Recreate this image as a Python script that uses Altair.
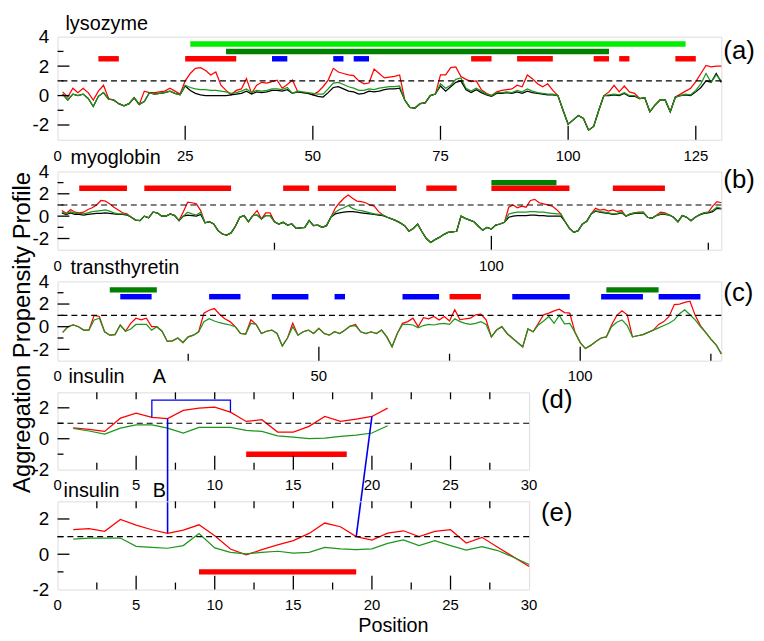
import altair as alt
import pandas as pd

FONT = "Liberation Sans"
RED = "#ff0000"
GREEN = "#1c961c"
BLACK = "#000000"
BLUE = "#0000ee"
BAR_KINDS = ["lime", "green", "red", "blue"]
BAR_COLORS = ["#00ee00", "#008000", "#ff0000", "#0000ff"]

# ---------------- data ----------------
LYS_RED = [
 0.25, -0.1, 0.5, 0.2, 0.5, 0.2, -0.3, 0.3, 0.7, -0.2,
 -0.3, -0.55, -0.7, -0.55, -0.15, -0.6, 0.3, 0.2, 0.2, 0.25,
 0.3, 0.5, 0.3, 0.1, 1.0, 1.5, 1.85, 1.9, 1.7, 1.4,
 1.6, 0.7, 0.35, 0.05, 0.35, 0.45, 1.15, 0.15, 0.7, 0.9,
 0.85, 0.95, 1.05, 0.5, 0.75, 1.05, 0.3, 0.2, 0.2, 0.05,
 0.25, 0.6, 1.05, 1.85, 1.6, 1.5, 1.4, 1.35, 1.0, 0.8,
 0.85, 1.8, 1.5, 1.2, 1.25, 1.3, 1.4, -0.3, -0.8, -0.85,
 -0.55, -0.5, 0.0, 0.1, 1.4, 1.4, 1.9, 1.95, 1.3, 1.1,
 0.95, 1.0, 0.4, 0.15, 0.0, 0.25, 0.35, 0.4, 0.45, 0.7,
 0.6, 1.4, 1.15, 0.8, 0.6, 0.8, 0.35, 0.0, -1.0, -1.95,
 -1.65, -1.35, -1.55, -2.35, -2.1, -1.0, 0.0, 0.25, 0.7, 0.25,
 0.65, 0.25, 0.15, -0.2, -0.15, -1.1, -0.65, -0.3, -0.3, -1.1,
 -0.1, 0.1, 0.3, 0.5, 0.95, 1.5, 2.05, 1.95, 2.0, 2.0,
]
LYS_GREEN = [
 0.1, -0.3, 0.1, 0.0, 0.1, -0.2, -0.75, -0.05, 0.2, -0.25,
 -0.3, -0.55, -0.7, -0.55, -0.15, -0.6, -0.4, 0.2, 0.1, 0.15,
 0.2, 0.3, 0.15, 0.05, 0.7, 0.55, 0.45, 0.4, 0.4, 0.35,
 0.35, 0.3, 0.25, 0.15, 0.2, 0.3, 0.45, 0.2, 0.35, 0.3,
 0.35, 0.45, 0.45, 0.4, 0.55, 0.15, 0.3, 0.25, 0.2, 0.15,
 0.1, 0.1, 0.45, 0.85, 0.9, 0.75, 0.6, 0.5, 0.35, 0.35,
 0.45, 0.4, 0.5, 0.55, 0.6, 0.6, 0.65, -0.3, -0.8, -0.85,
 -0.55, -0.5, 0.0, 0.1, 0.8, 0.5, 0.7, 1.1, 1.2, 0.5,
 0.3, 0.5, 0.3, 0.1, 0.0, 0.2, 0.2, 0.25, 0.2, 0.35,
 0.25, 0.45, 0.3, 0.2, 0.15, 0.1, 0.1, 0.0, -1.0, -1.95,
 -1.65, -1.35, -1.55, -2.35, -2.1, -1.0, 0.0, 0.05, 0.1, 0.05,
 0.2, 0.0, 0.0, -0.2, -0.15, -1.1, -0.65, -0.3, -0.3, -1.1,
 -0.1, 0.0, 0.1, 0.05, 0.35, 0.8, 1.5, 0.9, 1.4, 1.0,
]
LYS_BLACK = [
 0.1, -0.3, 0.1, 0.0, 0.1, -0.2, -0.75, -0.05, 0.2, -0.25,
 -0.3, -0.55, -0.7, -0.55, -0.15, -0.6, -0.4, 0.2, 0.1, 0.15,
 0.2, 0.3, 0.15, 0.05, 0.65, 0.35, 0.15, 0.05, 0.0, 0.0,
 0.0, 0.0, 0.0, 0.05, 0.1, 0.15, 0.3, 0.1, 0.25, 0.2,
 0.25, 0.35, 0.35, 0.3, 0.4, 0.15, 0.25, 0.2, 0.15, 0.05,
 -0.05, -0.1, 0.2, 0.55, 0.6, 0.45, 0.3, 0.25, 0.1, 0.15,
 0.3, 0.25, 0.3, 0.4, 0.45, 0.45, 0.5, -0.3, -0.8, -0.85,
 -0.55, -0.5, 0.0, 0.1, 0.65, 0.3, 0.6, 0.9, 1.0, 0.4,
 0.2, 0.4, 0.2, 0.05, -0.05, 0.15, 0.15, 0.2, 0.15, 0.25,
 0.15, 0.3, 0.2, 0.15, 0.1, 0.05, 0.05, 0.0, -1.0, -1.95,
 -1.65, -1.35, -1.55, -2.35, -2.1, -1.0, 0.0, 0.0, 0.05, 0.0,
 0.15, -0.05, -0.05, -0.2, -0.15, -1.1, -0.65, -0.3, -0.3, -1.1,
 -0.1, 0.0, 0.05, 0.0, 0.25, 0.55, 1.0, 0.9, 1.5, 0.9,
]
LYS_BAR_START = [26, 33, 8, 25, 81, 90, 105, 110, 121, 42, 54, 58]
LYS_BAR_END = [123, 108, 12, 35, 85, 97, 108, 112, 125, 45, 56, 61]
LYS_BAR_LEVEL = [3.5, 3.0, 2.5, 2.5, 2.5, 2.5, 2.5, 2.5, 2.5, 2.5, 2.5, 2.5]
LYS_BAR_KIND = ["lime", "green", "red", "red", "red", "red", "red", "red", "red",
                "blue", "blue", "blue"]

MYO_RED = [
 0.5, 0.25, 0.6, 0.35, 0.3, 0.35, 0.6, 0.75, 1.0, 1.4,
 1.35, 1.1, 0.8, 0.55, 0.3, 0.2, -0.1, -0.35, -0.4, 0.0,
 -0.15, 0.35, 0.3, 0.0, 0.0, 0.2, 0.05, -0.4, 0.4, 1.25,
 1.2, 1.1, 0.5, -0.6, -0.5, -0.7, -1.3, -1.6, -1.7, -1.5,
 -0.9, -0.1, 0.05, -0.5, 0.05, 0.5, -0.25, 0.3, 0.3, -0.5,
 -0.7, -0.55, -0.8, -0.7, -1.1, -1.05, -1.0, -0.4, -0.85, -0.8,
 -1.0, -0.85, -0.1, 0.7, 1.2, 1.6, 1.9, 1.6, 1.35, 1.3,
 1.2, 1.0, 0.9, 0.4, 0.1, -0.1, -0.25, -0.4, -0.6, -0.85,
 -1.35, -1.1, -0.7, -1.4, -2.0, -2.35, -2.1, -1.9, -1.65, -1.45,
 -1.4, -1.35, 0.0, -0.2, -0.35, -0.5, -0.9, -1.25, -1.0, -1.15,
 -0.8, -0.7, -0.55, 0.8, 1.0, 0.75, 0.9, 0.8, 1.4, 1.5,
 1.2, 1.1, 1.0, 0.9, 0.6, 0.2, -0.5, -1.1, -1.45, -1.3,
 -0.7, -0.45, 0.2, 0.7, 0.55, 0.6, 0.45, 0.55, 0.4, 0.5,
 0.0, 0.2, 0.3, 0.35, 0.35, -0.1, -0.2, 0.05, 0.35, 0.3,
 0.1, -0.1, -0.5, 0.05, -0.1, -0.4, -0.1, 0.15, 0.3, 0.35,
 0.9, 1.3, 1.2,
]
MYO_GREEN = [
 0.35, 0.2, 0.4, 0.25, 0.25, 0.2, 0.3, 0.4, 0.45, 0.5,
 0.55, 0.45, 0.3, 0.2, 0.2, 0.15, -0.1, -0.35, -0.4, 0.0,
 -0.15, 0.35, 0.3, 0.0, 0.0, 0.2, 0.05, -0.4, 0.0, 0.35,
 0.2, 0.1, 0.35, -0.6, -0.5, -0.7, -1.3, -1.6, -1.7, -1.5,
 -0.9, -0.1, 0.05, -0.5, 0.05, 0.1, -0.25, 0.05, 0.05, -0.5,
 -0.7, -0.55, -0.8, -0.7, -1.1, -1.05, -1.0, -0.4, -0.85, -0.8,
 -1.0, -0.85, -0.1, 0.35, 0.6, 0.75, 0.95, 0.7, 0.55, 0.5,
 0.4, 0.3, 0.2, 0.15, 0.1, -0.1, -0.25, -0.4, -0.6, -0.85,
 -1.35, -1.1, -0.7, -1.4, -2.0, -2.35, -2.1, -1.9, -1.65, -1.45,
 -1.4, -1.35, 0.0, -0.2, -0.35, -0.5, -0.9, -1.25, -1.0, -1.15,
 -0.8, -0.7, -0.55, 0.2, 0.3, 0.35, 0.35, 0.35, 0.4, 0.4,
 0.35, 0.35, 0.3, 0.25, 0.2, 0.2, -0.5, -1.1, -1.45, -1.3,
 -0.7, -0.45, 0.2, 0.5, 0.4, 0.35, 0.3, 0.2, 0.25, 0.35,
 0.0, 0.2, 0.3, 0.3, 0.35, -0.1, -0.2, 0.05, 0.2, 0.2,
 0.1, -0.1, -0.5, 0.05, -0.1, -0.4, -0.1, 0.15, 0.3, 0.35,
 0.5, 0.8, 0.7,
]
MYO_BLACK = [
 0.3, 0.15, 0.3, 0.15, 0.15, 0.1, 0.15, 0.2, 0.25, 0.25,
 0.3, 0.25, 0.2, 0.15, 0.15, 0.1, -0.1, -0.35, -0.4, 0.0,
 -0.15, 0.35, 0.3, 0.0, 0.0, 0.2, 0.05, -0.4, 0.0, 0.1,
 0.05, 0.0, 0.15, -0.6, -0.5, -0.7, -1.3, -1.6, -1.7, -1.5,
 -0.9, -0.1, 0.05, -0.5, 0.05, 0.1, -0.25, 0.05, 0.05, -0.5,
 -0.7, -0.55, -0.8, -0.7, -1.1, -1.05, -1.0, -0.4, -0.85, -0.8,
 -1.0, -0.85, -0.1, 0.2, 0.3, 0.35, 0.4, 0.4, 0.35, 0.3,
 0.25, 0.2, 0.15, 0.1, 0.05, -0.1, -0.25, -0.4, -0.6, -0.85,
 -1.35, -1.1, -0.7, -1.4, -2.0, -2.35, -2.1, -1.9, -1.65, -1.45,
 -1.4, -1.35, 0.0, -0.2, -0.35, -0.5, -0.9, -1.25, -1.0, -1.15,
 -0.8, -0.7, -0.55, -0.1, 0.0, 0.05, 0.05, 0.05, 0.1, 0.1,
 0.05, 0.05, 0.0, 0.0, 0.0, 0.0, -0.5, -1.1, -1.45, -1.3,
 -0.7, -0.45, 0.2, 0.45, 0.35, 0.3, 0.25, 0.15, 0.2, 0.3,
 0.0, 0.15, 0.25, 0.25, 0.3, -0.1, -0.2, 0.05, 0.15, 0.15,
 0.1, -0.1, -0.5, 0.05, -0.1, -0.4, -0.1, 0.1, 0.25, 0.3,
 0.4, 0.7, 0.65,
]
MYO_BAR_START = [5, 20, 52, 60, 85, 100, 128, 100]
MYO_BAR_END = [16, 40, 58, 78, 92, 118, 140, 115]
MYO_BAR_LEVEL = [2.5, 2.5, 2.5, 2.5, 2.5, 2.5, 2.5, 3.0]
MYO_BAR_KIND = ["red", "red", "red", "red", "red", "red", "red", "green"]

TTR_RED = [
 -0.5, 0.0, 0.15, 0.0, -0.3, -0.3, 1.0, 0.9, -0.45, -0.75,
 -0.7, 0.15, -0.4, 0.3, 0.75, 0.6, 0.75, 0.0, 0.0, -0.4,
 -1.3, -1.25, -1.0, -1.4, -0.9, -0.75, -0.45, 1.2, 1.45, 1.6,
 1.1, 0.7, 0.45, 0.0, -0.6, -0.65, 0.6, 0.2, -0.6, -0.4,
 -0.3, -0.6, -1.7, -1.0, 0.3, -0.75, -0.45, -0.3, -0.6, -0.15,
 -0.6, -0.75, -0.45, -0.6, -0.3, 0.05, 0.2, -0.45, -0.6, -0.45,
 -0.6, -0.3, -0.9, -1.78, -0.6, 0.3, 0.45, 0.75, 0.0, 0.8,
 0.7, 0.9, 0.6, 0.9, 0.5, 1.5, 0.6, 0.7, 0.75, 1.05,
 1.1, 0.6, -0.9, -0.3, 0.0, -0.6, -1.0, -1.4, -1.78, -0.2,
 -0.45, 0.3, 1.05, 1.2, 1.4, 1.55, 1.25, 1.2, -0.5, -1.4,
 -1.93, -1.65, -1.3, -1.0, -0.9, 0.15, 1.0, 1.4, 1.05, -0.9,
 -0.8, -0.7, -0.5, -0.3, 0.2, 0.45, 0.9, 1.95, 2.0, 2.15,
 2.25, 1.0, 0.1, -0.5, -1.1, -1.6, -2.4,
]
TTR_GREEN = [
 -0.5, 0.0, 0.15, 0.0, -0.3, -0.3, 0.6, 0.75, -0.45, -0.75,
 -0.7, 0.15, -0.4, -0.2, 0.2, 0.2, 0.2, -0.3, 0.0, -0.4,
 -1.3, -1.25, -1.0, -1.4, -0.9, -0.75, -0.45, 0.45, 0.7, 0.5,
 0.35, 0.25, 0.15, 0.0, -0.6, -0.65, 0.3, 0.2, -0.6, -0.4,
 -0.3, -0.6, -1.7, -1.0, 0.0, -0.75, -0.45, -0.3, -0.6, -0.15,
 -0.6, -0.75, -0.45, -0.6, -0.3, 0.05, 0.1, -0.45, -0.6, -0.45,
 -0.6, -0.3, -0.9, -1.78, -0.6, 0.2, 0.2, 0.15, -0.1, 0.1,
 0.2, 0.15, 0.25, 0.3, 0.2, 0.7, 0.45, 0.3, 0.2, 0.3,
 0.45, 0.2, -0.9, -0.3, 0.0, -0.6, -1.0, -1.4, -1.78, -0.2,
 -0.45, 0.15, 0.5, 0.9, 0.3, 1.0, 0.25, 0.3, -0.5, -1.4,
 -1.93, -1.65, -1.3, -1.0, -0.9, 0.0, 0.4, 0.6, 0.1, -0.9,
 -0.8, -0.7, -0.5, -0.3, -0.1, 0.1, 0.3, 0.6, 1.15, 1.5,
 1.05, 0.6, 0.0, -0.5, -1.1, -1.6, -2.4,
]
TTR_BAR_START = [10, 12, 29, 41, 53, 66, 75, 87, 104, 105, 115]
TTR_BAR_END = [19, 18, 35, 48, 55, 73, 81, 98, 112, 115, 123]
TTR_BAR_LEVEL = [3.25, 2.65, 2.65, 2.65, 2.65, 2.65, 2.65, 2.65, 2.65, 3.25, 2.65]
TTR_BAR_KIND = ["green", "blue", "blue", "blue", "blue", "blue", "red", "blue", "blue",
                "green", "blue"]

INSA_RED = [0.7, 0.6, 0.47, 1.33, 1.65, 1.38, 1.3, 1.83, 1.98, 2.04, 1.72,
            1.12, 1.23, 0.43, 0.43, 0.8, 1.44, 1.12, 1.27, 1.44, 1.98]
INSA_GREEN = [0.67, 0.5, 0.3, 0.69, 0.9, 0.9, 0.69, 0.37, 0.73, 0.73, 0.73,
              0.54, 0.47, 0.19, 0.1, 0.0, 0.04, 0.15, 0.24, 0.37, 0.84]
INSA_BAR_START = [12]
INSA_BAR_END = [18.4]
INSA_BAR_LEVEL = [-1.0]
INSA_BAR_KIND = ["red"]

INSB_RED = [1.39, 1.45, 1.3, 1.97, 1.65, 1.39, 1.18, 1.37, 1.67, 1.05,
            0.3, -0.04, 0.26, 0.53, 0.77, 1.18, 1.77, 1.56, 1.0, 0.8,
            1.2, 1.33, 1.0, 1.3, 1.39, 0.64, 0.96, 0.4, -0.15, -0.7]
INSB_GREEN = [0.86, 0.92, 0.92, 0.92, 0.45, 0.39, 0.34, 0.49, 1.18, 0.36,
              0.11, 0.02, 0.11, 0.17, 0.06, 0.11, 0.39, 0.3, 0.26, 0.3,
              0.62, 0.81, 0.49, 0.77, 0.49, 0.24, 0.43, 0.21, -0.17, -0.58]
INSB_BAR_START = [9]
INSB_BAR_END = [19]
INSB_BAR_LEVEL = [-1.0]
INSB_BAR_KIND = ["red"]

# disulfide bonds
BRACKET_POS = [6, 6, 11, 11]
BRACKET_VAL = [1.38, 2.5, 2.5, 1.72]
BOND_A_POS = [7, 20]
BOND_A_VAL = [1.3, 1.44]
BOND_B_POS = [7, 19]
BOND_B_VAL = [1.18, 1.0]

# tick label values
LYS_XLAB = [0, 25, 50, 75, 100, 125]
MYO_XLAB = [0, 100]
TTR_XLAB = [0, 50, 100]
INS_XLAB = [0, 5, 10, 15, 20, 25, 30]

# ---------------- layout ----------------
W_WIDE, W_NARROW = 670, 476
H_A, H_B, H_C, H_D, H_E = 104, 79, 80, 78, 89
SPACING = 32
LW = 1.25
LABEL_GAP = 9


def text(s, x, y, size, align="left", baseline="alphabetic", angle=0):
    kw = dict(font=FONT, fontSize=size, align=align, baseline=baseline, color="black")
    if angle:
        kw["angle"] = angle
    return alt.Chart(pd.DataFrame({"t": [s]})).mark_text(**kw).encode(
        text="t:N", x=alt.value(x), y=alt.value(y))


def panel(series, bars, xdom, ydom, w, h, xlabels, ylabels, ymaj, ymin,
          xbmaj, xbmin, xtop, texts, bar_w=5.5, extra=(), ytitle=None,
          own_origin=True, origin_above=None):
    xs = alt.Scale(domain=xdom, nice=False, zero=False)
    ys = alt.Scale(domain=ydom, nice=False, zero=False)
    ykw = dict(values=ylabels, ticks=False, domain=False, grid=False,
               labelFont=FONT, labelFontSize=19, labelPadding=9,
               labelOverlap=False, labelColor="black",
               labelExpr="'' + datum.value")
    if ytitle:
        ykw.update(title=ytitle, titleFont=FONT, titleFontSize=24,
                   titleFontWeight="normal", titleColor="black", titleAngle=270,
                   titleAlign="center", titleBaseline="middle",
                   titleX=-35, titleY=51)
    else:
        ykw["title"] = None
    yaxis = alt.Axis(**ykw)

    def X(f):
        return alt.X(f, scale=xs, axis=None)

    def Y(f):
        return alt.Y(f, scale=ys, axis=yaxis)

    layers = []
    for vals, color in series:
        df = pd.DataFrame({"pos": list(range(1, len(vals) + 1)), "val": vals})
        layers.append(alt.Chart(df).mark_line(color=color, strokeWidth=LW).encode(
            x=X("pos:Q"), y=Y("val:Q")))
    # dashed threshold
    layers.append(alt.Chart(pd.DataFrame({"v": [1]})).mark_rule(
        color="black", strokeWidth=1.2, strokeDash=[6, 4]).encode(y=Y("v:Q")))
    # bars
    start, end, level, kind = bars
    bdf = pd.DataFrame({"start": start, "end": end, "level": level, "kind": kind})
    layers.append(alt.Chart(bdf).mark_rule(strokeWidth=bar_w, strokeCap="butt").encode(
        x=X("start:Q"), x2="end:Q", y=Y("level:Q"),
        color=alt.Color("kind:N", scale=alt.Scale(domain=BAR_KINDS, range=BAR_COLORS),
                        legend=None)))
    # ticks drawn inside the frame
    for vals, ln in ((ymaj, 12), (ymin, 6)):
        if vals:
            layers.append(alt.Chart(pd.DataFrame({"v": vals})).mark_rule(
                color="black", strokeWidth=1.3).encode(
                y=Y("v:Q"), x=alt.value(0), x2=alt.value(ln)))
    for vals, ln in ((xbmaj, 14), (xbmin, 7)):
        if vals:
            layers.append(alt.Chart(pd.DataFrame({"v": vals})).mark_rule(
                color="black", strokeWidth=1.3).encode(
                x=X("v:Q"), y=alt.value(h), y2=alt.value(h - ln)))
    if xtop:
        layers.append(alt.Chart(pd.DataFrame({"v": xtop})).mark_rule(
            color="black", strokeWidth=1.3).encode(
            x=X("v:Q"), y=alt.value(0), y2=alt.value(7)))
    # x tick labels placed by the x scale (origin label handled separately)
    rest = xlabels[1:]
    ldf = pd.DataFrame({"v": rest, "lab": [str(v) for v in rest]})
    layers.append(alt.Chart(ldf).mark_text(
        font=FONT, fontSize=15, align="center", baseline="top", color="black").encode(
        x=X("v:Q"), y=alt.value(h + LABEL_GAP), text="lab:N"))
    for e in extra:
        layers.append(e(X, Y))
    for t in texts:
        layers.append(text(*t))
    if own_origin:
        layers.append(text(str(xlabels[0]), 0, h + LABEL_GAP, 15, "center", "top"))
    if origin_above is not None:
        # origin label of the panel just above, drawn last in this panel
        layers.append(text(origin_above, 0, -(SPACING - LABEL_GAP), 15, "center", "top"))
    return alt.layer(*layers).properties(width=w, height=h)


YT = [-2, 0, 2, 4]
YM = [-1, 1, 3]

pa = panel([(LYS_RED, RED), (LYS_BLACK, BLACK), (LYS_GREEN, GREEN)],
           (LYS_BAR_START, LYS_BAR_END, LYS_BAR_LEVEL, LYS_BAR_KIND),
           [0, 130], [-3, 4], W_WIDE, H_A, LYS_XLAB, YT,
           [-2, 0, 2], YM, [25, 50, 75, 100, 125], [], [],
           [("lysozyme", 8, -7, 20), ("(a)", W_WIDE + 2, 15, 26, "left", "middle")])

pb = panel([(MYO_RED, RED), (MYO_BLACK, BLACK), (MYO_GREEN, GREEN)],
           (MYO_BAR_START, MYO_BAR_END, MYO_BAR_LEVEL, MYO_BAR_KIND),
           [0, 153], [-3, 4], W_WIDE, H_B, MYO_XLAB, YT,
           [-2, 0, 2], YM, [100], [50, 150], [],
           [("myoglobin", 13, -7, 20), ("(b)", W_WIDE + 2, 9, 26, "left", "middle")],
           own_origin=False)

pc = panel([(TTR_RED, RED), (TTR_GREEN, GREEN)],
           (TTR_BAR_START, TTR_BAR_END, TTR_BAR_LEVEL, TTR_BAR_KIND),
           [0, 127], [-3, 4], W_WIDE, H_C, TTR_XLAB, YT,
           [-2, 0, 2], YM, [50, 100], [25, 75, 125], [],
           [("transthyretin", 13, -7, 20), ("(c)", W_WIDE + 2, 12, 26, "left", "middle")],
           ytitle="Aggregation Propensity Profile",
           own_origin=False, origin_above=str(MYO_XLAB[0]))


def bracket_layer(X, Y):
    df = pd.DataFrame({"pos": BRACKET_POS, "val": BRACKET_VAL,
                       "k": list(range(len(BRACKET_POS)))})
    return alt.Chart(df).mark_line(color=BLUE, strokeWidth=1.3).encode(
        x=X("pos:Q"), y=Y("val:Q"), order="k:Q")


def bond_layer(X, Y):
    # chain-B ends live in panel (e); express them in panel (d)'s value units
    b_in_d = [3 - (H_D + SPACING + H_E * (3 - v) / 5) * 5 / H_D for v in BOND_B_VAL]
    df = pd.DataFrame({"a_pos": BOND_A_POS, "a_val": BOND_A_VAL,
                       "b_pos": BOND_B_POS, "b_val": b_in_d})
    return alt.Chart(df).mark_rule(color=BLUE, strokeWidth=1.6).encode(
        x=X("a_pos:Q"), x2="b_pos:Q", y=Y("a_val:Q"), y2="b_val:Q")


XI_MAJ = [5, 10, 15, 20, 25]
XI_MIN = [2.5, 7.5, 12.5, 17.5, 22.5, 27.5]
XI_TOP = [2.5, 5, 7.5, 10, 12.5, 15, 17.5, 20, 22.5, 25, 27.5]

pd_ = panel([(INSA_RED, RED), (INSA_GREEN, GREEN)],
            (INSA_BAR_START, INSA_BAR_END, INSA_BAR_LEVEL, INSA_BAR_KIND),
            [0, 30], [-2, 3], W_NARROW, H_D, INS_XLAB, [-2, 0, 2],
            [0, 2], [-1, 1], XI_MAJ, XI_MIN, XI_TOP,
            [("insulin", 11, -9, 20), ("A", 96, -9, 20),
             ("(d)", W_NARROW + 12, 8, 26, "left", "middle")],
            extra=(bracket_layer, bond_layer),
            own_origin=False, origin_above=str(TTR_XLAB[0]))

pe = panel([(INSB_RED, RED), (INSB_GREEN, GREEN)],
           (INSB_BAR_START, INSB_BAR_END, INSB_BAR_LEVEL, INSB_BAR_KIND),
           [0, 30], [-2, 3], W_NARROW, H_E, INS_XLAB, [-2, 0, 2],
           [0, 2], [-1, 1], XI_MAJ, XI_MIN, XI_TOP,
           [("insulin", 6, -4, 20), ("B", 96, -4, 20),
            ("(e)", W_NARROW + 12, 12, 26, "left", "middle"),
            ("Position", 339, H_E + 43, 20, "center", "alphabetic")],
           origin_above=str(INS_XLAB[0]))

chart = alt.vconcat(pa, pb, pc, pd_, pe, spacing=SPACING, bounds="flush").properties(
    padding={"left": 2, "top": 2, "right": 0, "bottom": 0},
    background="white",
).configure_view(stroke="black", strokeWidth=1.8).configure(font=FONT)

chart.save("out.html", embed_options={"renderer": "svg", "actions": False})
